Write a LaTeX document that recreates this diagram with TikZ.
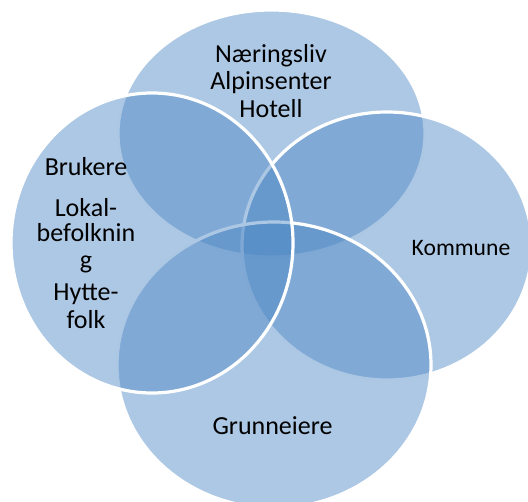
\documentclass[tikz,border=0pt]{standalone}
\usepackage{fontspec}
\setmainfont{Carlito}
\usetikzlibrary{shapes.geometric}
\definecolor{vennblue}{HTML}{4985C3}
\tikzset{
  venn/.style={ellipse, inner sep=0pt, fill=vennblue, fill opacity=0.45,
    draw=white, draw opacity=1, line width=3.2pt},
  lbl/.style={anchor=base, inner sep=0pt, text=black, font=\fontsize{26}{27}\selectfont},
  lblsmall/.style={lbl, font=\fontsize{23.6}{25}\selectfont}
}
\begin{document}
\begin{tikzpicture}[x=1pt,y=-1pt]
\clip (0,0) rectangle (528,502);
\useasboundingbox (0,0) rectangle (528,502);
% circles, drawn in stacking order
\node[venn, minimum width=307pt, minimum height=247pt] (ctop) at (271.5,133.5) {};
\node[venn, minimum width=290pt, minimum height=268pt] (cright) at (387,246) {};
\node[venn, minimum width=314pt, minimum height=286pt] (cbottom) at (274,365) {};
\node[venn, minimum width=282pt, minimum height=300pt] (cleft) at (152,243) {};
% labels
\node[lbl] (t1) at (271,62.5) {Næringsliv};
\node[lbl] (t2) at (271,89.5) {Alpinsenter};
\node[lbl] (t3) at (271,117.5) {Hotell};
\node[lblsmall] (k1) at (461,255.7) {Kommune};
\node[lbl] (g1) at (272.5,435) {Grunneiere};
\node[lbl] (b1) at (86,175.7) {Brukere};
\node[lbl] (b2) at (86,216.7) {Lokal-};
\node[lbl] (b3) at (86,242) {befolknin};
\node[lbl] (b4) at (86,268.7) {g};
\node[lbl] (b5) at (86,300.5) {Hytte-};
\node[lbl] (b6) at (86,328.5) {folk};
\end{tikzpicture}
\end{document}
